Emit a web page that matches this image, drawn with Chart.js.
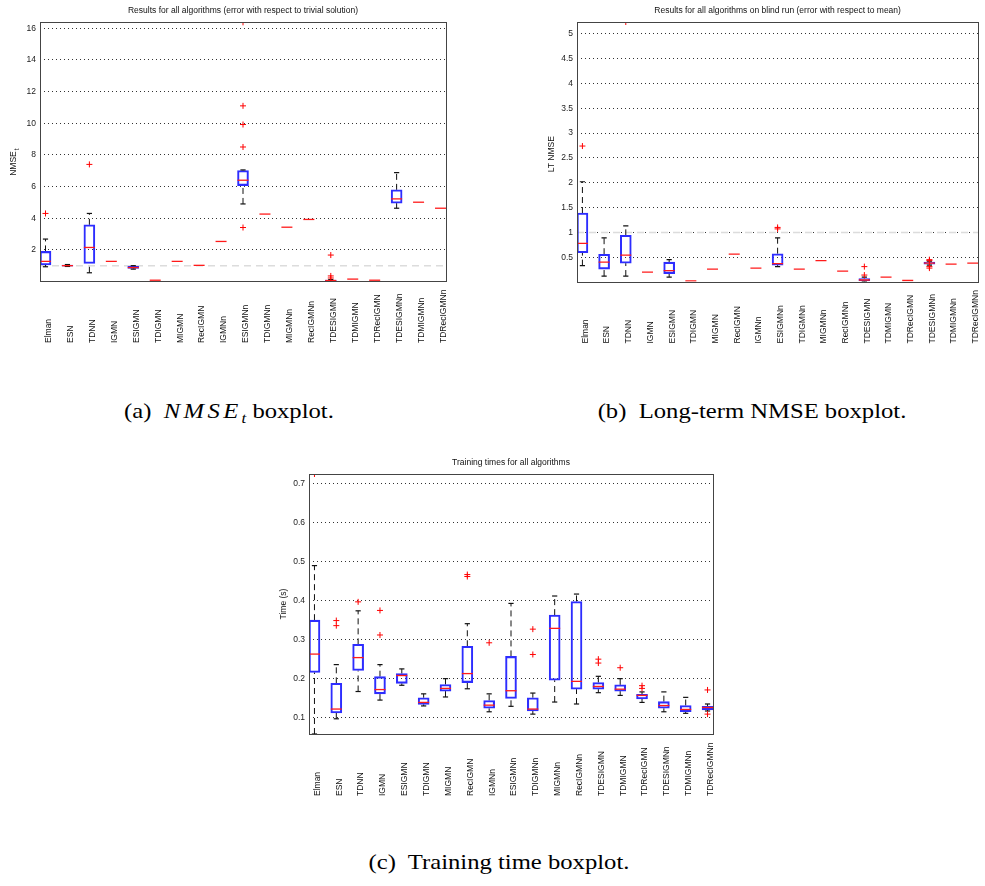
<!DOCTYPE html>
<html lang="en">
<head>
    <meta charset="UTF-8">
    <title>Boxplots</title>
    <style>
        body { margin: 0; background: #fff; width: 985px; height: 886px; position: relative; overflow: hidden; }
        canvas { position: absolute; }
        .cap { position: absolute; font-family: 'Liberation Serif', 'Times New Roman', serif; font-size: 22px; line-height: 22px; color: #000; white-space: nowrap; transform: translateX(-50%) scaleX(1.12); }
        .cap i { letter-spacing: 3px; }
        .cap sub { font-size: 15px; letter-spacing: 0; }
    </style>
</head>
<body>
    <canvas id="nmse" width="480" height="370" style="left:0;top:0"></canvas>
    <canvas id="lt" width="485" height="370" style="left:500px;top:0"></canvas>
    <canvas id="time" width="480" height="370" style="left:260px;top:450px"></canvas>
    <div class="cap" style="left:229px;top:400px">(a)&nbsp; <i>NMSE<sub>t</sub></i> boxplot.</div>
    <div class="cap" style="left:752px;top:400px">(b)&nbsp; Long-term NMSE boxplot.</div>
    <div class="cap" style="left:499px;top:851px">(c)&nbsp; Training time boxplot.</div>

    <script src="https://cdn.jsdelivr.net/npm/chart.js@4.4.0/dist/chart.umd.min.js"></script>
    <script>
        const categories = ['Elman', 'ESN', 'TDNN', 'IGMN', 'ESIGMN', 'TDIGMN', 'MIGMN', 'RecIGMN', 'IGMNn',
            'ESIGMNn', 'TDIGMNn', 'MIGMNn', 'RecIGMNn', 'TDESIGMN', 'TDMIGMN', 'TDRecIGMN',
            'TDESIGMNn', 'TDMIGMNn', 'TDRecIGMNn']

        // (a) NMSE_t
        const nmseLo  = [0.93, 0.95, 0.55, 1.27, 0.78, 0.08, 1.27, 1.02, 2.53, 4.90, 4.26, 3.43, 3.92, 0.03, 0.15, 0.08, 4.63, 5.01, 4.63]
        const nmseQ1  = [1.05, 0.97, 1.14, 1.27, 0.82, 0.08, 1.27, 1.02, 2.53, 6.06, 4.26, 3.43, 3.92, 0.04, 0.15, 0.08, 4.95, 5.01, 4.63]
        const nmseMed = [1.27, 1.00, 2.15, 1.27, 0.88, 0.08, 1.27, 1.02, 2.53, 6.40, 4.26, 3.43, 3.92, 0.06, 0.15, 0.08, 5.22, 5.01, 4.63]
        const nmseQ3  = [1.90, 1.04, 3.58, 1.27, 0.95, 0.08, 1.27, 1.02, 2.53, 7.01, 4.26, 3.43, 3.92, 0.09, 0.15, 0.08, 5.79, 5.01, 4.63]
        const nmseHi  = [2.68, 1.07, 4.30, 1.27, 1.00, 0.08, 1.27, 1.02, 2.53, 7.05, 4.26, 3.43, 3.92, 0.12, 0.15, 0.08, 6.88, 5.01, 4.63]
        const nmseOut = [[4.3], [], [7.4], [], [], [], [], [], [], [16.38, 11.1, 9.92, 8.5, 3.41],
            [], [], [], [1.67, 0.35, 0.22], [], [], [], [], []]
        const nmseTicks = [2, 4, 6, 8, 10, 12, 14, 16]

        // (b) long-term NMSE
        const ltLo  = [0.33, 0.12, 0.12, 0.20, 0.10, 0.02, 0.26, 0.56, 0.28, 0.31, 0.26, 0.43, 0.22, 0.01, 0.10, 0.03, 0.34, 0.36, 0.38]
        const ltQ1  = [0.59, 0.26, 0.38, 0.20, 0.17, 0.02, 0.26, 0.56, 0.28, 0.34, 0.26, 0.43, 0.22, 0.02, 0.10, 0.03, 0.36, 0.36, 0.38]
        const ltMed = [0.78, 0.40, 0.54, 0.20, 0.23, 0.02, 0.26, 0.56, 0.28, 0.37, 0.26, 0.43, 0.22, 0.04, 0.10, 0.03, 0.38, 0.36, 0.38]
        const ltQ3  = [1.39, 0.56, 0.94, 0.20, 0.40, 0.02, 0.26, 0.56, 0.28, 0.57, 0.26, 0.43, 0.22, 0.07, 0.10, 0.03, 0.40, 0.36, 0.38]
        const ltHi  = [2.02, 0.89, 1.13, 0.20, 0.45, 0.02, 0.26, 0.56, 0.28, 0.89, 0.26, 0.43, 0.22, 0.10, 0.10, 0.03, 0.42, 0.36, 0.38]
        const ltOut = [[2.74], [], [5.24], [], [], [], [], [], [], [1.07, 1.1],
            [], [], [], [0.31, 0.14], [], [], [0.45, 0.43, 0.31, 0.28], [], []]
        const ltTicks = [0.5, 1, 1.5, 2, 2.5, 3, 3.5, 4, 4.5, 5]

        // (c) training time
        const timeLo  = [0.058, 0.097, 0.167, 0.145, 0.183, 0.130, 0.153, 0.174, 0.115, 0.129, 0.109, 0.140, 0.135, 0.164, 0.157, 0.139, 0.115, 0.111, 0.117]
        const timeQ1  = [0.216, 0.112, 0.221, 0.161, 0.188, 0.134, 0.168, 0.190, 0.124, 0.149, 0.117, 0.196, 0.173, 0.173, 0.168, 0.148, 0.124, 0.115, 0.120]
        const timeMed = [0.263, 0.122, 0.254, 0.172, 0.208, 0.139, 0.175, 0.213, 0.132, 0.169, 0.122, 0.329, 0.193, 0.180, 0.173, 0.157, 0.131, 0.121, 0.126]
        const timeQ3  = [0.350, 0.188, 0.288, 0.205, 0.213, 0.151, 0.185, 0.283, 0.144, 0.257, 0.151, 0.363, 0.398, 0.190, 0.184, 0.160, 0.141, 0.131, 0.129]
        const timeHi  = [0.490, 0.236, 0.374, 0.236, 0.225, 0.161, 0.200, 0.341, 0.161, 0.393, 0.163, 0.412, 0.417, 0.206, 0.200, 0.166, 0.166, 0.152, 0.135]
        const timeOut = [[0.725], [0.349, 0.336], [0.397], [0.375, 0.312], [], [], [], [0.467, 0.462], [0.292], [],
            [0.327, 0.262], [], [], [0.25, 0.24], [0.228], [0.182, 0.175], [], [], [0.171, 0.109]]
        const timeTicks = [0.1, 0.2, 0.3, 0.4, 0.5, 0.6, 0.7]

        Chart.defaults.font.family = "'Liberation Sans', Arial, sans-serif"
        Chart.defaults.font.size = 8.5
        Chart.defaults.color = '#222'

        // titles, axis labels, frame and the bottom-aligned rotated category names
        const boxDecor = {
            id: 'boxDecor',
            beforeDatasetsDraw(chart, args, o) {
                if (o.refLine === undefined) return
                const { ctx, chartArea: a, scales: { y } } = chart
                const py = y.getPixelForValue(o.refLine)
                ctx.save()
                ctx.strokeStyle = '#dcdcdc'
                ctx.lineWidth = 1.5
                ctx.setLineDash([7, 5])
                ctx.beginPath()
                ctx.moveTo(a.left, py)
                ctx.lineTo(a.right, py)
                ctx.stroke()
                ctx.restore()
            },
            afterDraw(chart, args, o) {
                const { ctx, chartArea: a, scales: { x } } = chart
                ctx.save()
                ctx.strokeStyle = '#444'
                ctx.lineWidth = 1
                ctx.strokeRect(Math.round(a.left) + 0.5, Math.round(a.top) + 0.5,
                    Math.round(a.right - a.left), Math.round(a.bottom - a.top))

                ctx.fillStyle = '#111'
                ctx.font = "8.5px 'Liberation Sans'"
                ctx.textAlign = 'center'
                ctx.textBaseline = 'alphabetic'
                ctx.fillText(o.title, (a.left + a.right) / 2, a.top - 9)

                ctx.textAlign = 'left'
                ctx.textBaseline = 'middle'
                categories.forEach((c, i) => {
                    ctx.save()
                    ctx.translate(x.getPixelForValue(i + 1) + 3, a.bottom + 62)
                    ctx.rotate(-Math.PI / 2)
                    ctx.fillText(c, 0, 0)
                    ctx.restore()
                })

                ctx.save()
                ctx.translate(o.ylabelX, (a.top + a.bottom) / 2 + o.ylabelShift)
                ctx.rotate(-Math.PI / 2)
                ctx.textAlign = 'center'
                ctx.fillText(o.ylabel, 0, 0)
                if (o.sub) {
                    const w = ctx.measureText(o.ylabel).width
                    ctx.font = "6.5px 'Liberation Sans'"
                    ctx.textAlign = 'left'
                    ctx.fillText(o.sub, w / 2 + 1, 3)
                }
                ctx.restore()
                ctx.restore()
            }
        }

        const buildBoxplot = (id, lo, q1, med, q3, hi, out, yMin, yMax, yTicks, layout, decor) => {
            const boxes = [], meds = [], caps = [], whiskers = [], outliers = []
            med.forEach((m, i) => {
                const x = i + 1
                meds.push({ x, y: m })
                if (q3[i] > q1[i]) boxes.push({ x, y: [q1[i], q3[i]] })
                if (hi[i] > q3[i]) {
                    whiskers.push({ x, y: q3[i] }, { x, y: hi[i] }, { x, y: null })
                    caps.push({ x, y: hi[i] })
                }
                if (lo[i] < q1[i]) {
                    whiskers.push({ x, y: lo[i] }, { x, y: q1[i] }, { x, y: null })
                    caps.push({ x, y: lo[i] })
                }
                out[i].forEach(v => outliers.push({ x, y: v }))
            })

            return new Chart(document.getElementById(id), {
                type: 'bar',
                data: {
                    datasets: [
                        {
                            type: 'scatter', data: outliers, order: 0,
                            pointStyle: 'cross', radius: 3, borderColor: '#ff0000', borderWidth: 1
                        },
                        {
                            type: 'scatter', data: meds, order: 1,
                            pointStyle: 'line', radius: 5.5, borderColor: '#ff1a1a', borderWidth: 1.3
                        },
                        {
                            type: 'scatter', data: caps, order: 2,
                            pointStyle: 'line', radius: 2.6, borderColor: '#111', borderWidth: 1.2
                        },
                        {
                            type: 'bar', data: boxes, order: 3,
                            backgroundColor: 'rgba(0,0,0,0)', borderColor: 'rgb(45,45,255)',
                            borderWidth: 1.4, borderSkipped: false, barThickness: 11
                        },
                        {
                            type: 'line', data: whiskers, order: 4, spanGaps: false,
                            borderColor: '#111', borderWidth: 1, borderDash: [6, 4], pointRadius: 0
                        }
                    ]
                },
                options: {
                    responsive: false,
                    animation: false,
                    layout: { padding: layout.padding },
                    plugins: {
                        legend: { display: false },
                        tooltip: { enabled: false },
                        boxDecor: decor
                    },
                    scales: {
                        x: {
                            type: 'linear', min: 0.75, max: 19.25, offset: false,
                            afterBuildTicks: s => { s.ticks = categories.map((c, i) => ({ value: i + 1 })) },
                            afterFit: s => { s.height = layout.xHeight },
                            ticks: { display: false },
                            grid: { display: false },
                            border: { display: false }
                        },
                        y: {
                            type: 'linear', min: yMin, max: yMax,
                            afterBuildTicks: s => { s.ticks = yTicks.map(v => ({ value: v })) },
                            afterFit: s => { s.width = layout.yWidth },
                            ticks: { padding: 4, callback: v => String(v) },
                            grid: { color: '#333', lineWidth: 1, drawTicks: false },
                            border: { display: false, dash: [1, 3] }
                        }
                    }
                },
                plugins: [boxDecor]
            })
        }

        buildBoxplot('nmse', nmseLo, nmseQ1, nmseMed, nmseQ3, nmseHi, nmseOut, 0.03, 16.4, nmseTicks,
            { padding: { left: 0, top: 22, right: 34, bottom: 0 }, yWidth: 40, xHeight: 89 },
            { title: 'Results for all algorithms (error with respect to trivial solution)',
              ylabel: 'NMSE', sub: 't', ylabelX: 14, ylabelShift: 12, refLine: 1 })

        buildBoxplot('lt', ltLo, ltQ1, ltMed, ltQ3, ltHi, ltOut, 0.01, 5.24, ltTicks,
            { padding: { left: 0, top: 22, right: 3, bottom: 0 }, yWidth: 77, xHeight: 88.5 },
            { title: 'Results for all algorithms on blind run (error with respect to mean)',
              ylabel: 'LT NMSE', ylabelX: 52, ylabelShift: 2.5, refLine: 1 })

        buildBoxplot('time', timeLo, timeQ1, timeMed, timeQ3, timeHi, timeOut, 0.058, 0.725, timeTicks,
            { padding: { left: 0, top: 24, right: 27, bottom: 0 }, yWidth: 49, xHeight: 86 },
            { title: 'Training times for all algorithms', ylabel: 'Time (s)', ylabelX: 24, ylabelShift: 0 })
    </script>
</body>
</html>
